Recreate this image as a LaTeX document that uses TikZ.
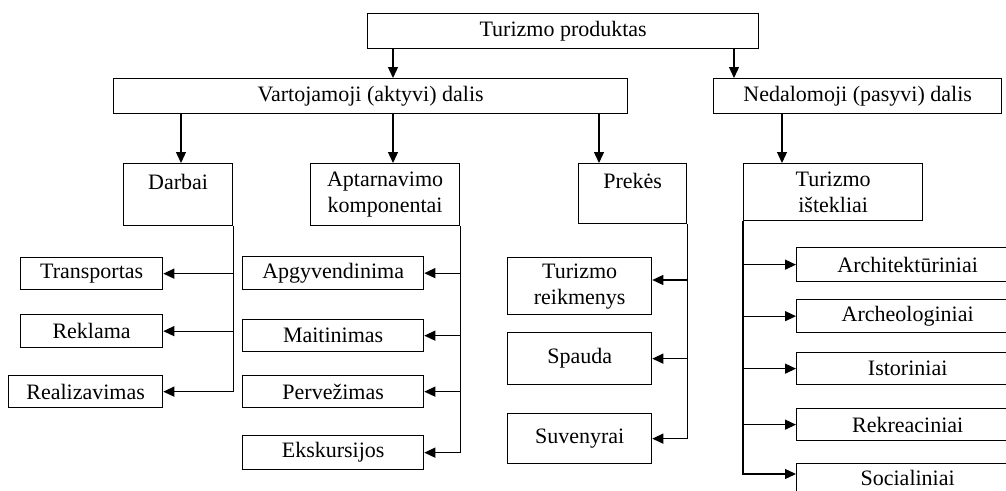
\documentclass[tikz,border=0pt]{standalone}
\usepackage{fontspec}
\setmainfont{Liberation Serif}
\usepackage{tikz}
\usetikzlibrary{arrows.meta}

\begin{document}
\begin{tikzpicture}[x=1pt,y=-1pt,>={Triangle[length=11pt,width=10pt]},
                    line width=1.3pt,font=\fontsize{22}{26}\selectfont]
  \tikzstyle{box}=[draw=black,inner sep=0pt,anchor=north west,align=center]
  \tikzstyle{link}=[->]

  \useasboundingbox (0,0) rectangle (1006,490);
  \clip (0,0) rectangle (1006,490);

  % top levels
  \node[box,minimum width=391,minimum height=35] (Produktas)   at (367,13)  {Turizmo produktas};
  \node[box,minimum width=514,minimum height=35] (Vartojamoji) at (113,78)  {Vartojamoji (aktyvi) dalis};
  \node[box,minimum width=288,minimum height=35] (Nedalomoji)  at (713,78)  {Nedalomoji (pasyvi) dalis};

  % groups
  \node[box,minimum width=109,minimum height=62] (Darbai)      at (123,163) {Darbai\\~};
  \node[box,minimum width=149,minimum height=62] (Aptarnavimo) at (310,163) {Aptarnavimo\\komponentai};
  \node[box,minimum width=108,minimum height=60] (Prekes)      at (578,163) {Prekės\\~};
  \node[box,minimum width=179,minimum height=57] (Istekliai)   at (743,163) {Turizmo\\ištekliai};

  % Darbai
  \node[box,minimum width=142,minimum height=32] (Transportas)  at (20,257) {Transportas};
  \node[box,minimum width=142,minimum height=33] (Reklama)      at (20,314) {Reklama};
  \node[box,minimum width=154,minimum height=32] (Realizavimas) at (8,375)  {Realizavimas};

  % Aptarnavimo komponentai
  \node[box,minimum width=181,minimum height=33] (Apgyvendinima) at (242,256) {Apgyvendinima};
  \node[box,minimum width=181,minimum height=32] (Maitinimas)    at (242,319) {Maitinimas};
  \node[box,minimum width=181,minimum height=32] (Pervezimas)    at (242,375) {Pervežimas};
  \node[box,minimum width=181,minimum height=34] (Ekskursijos)   at (242,435) {Ekskursijos};

  % Prekes
  \node[box,minimum width=144,minimum height=57] (Reikmenys) at (507,257) {Turizmo\\reikmenys};
  \node[box,minimum width=144,minimum height=52] (Spauda)    at (507,332) {Spauda};
  \node[box,minimum width=144,minimum height=50] (Suvenyrai) at (507,413) {Suvenyrai};

  % Turizmo istekliai
  \node[box,minimum width=222,minimum height=34] (Architekturiniai) at (796,247) {Architektūriniai};
  \node[box,minimum width=222,minimum height=33] (Archeologiniai)   at (796,299) {Archeologiniai};
  \node[box,minimum width=222,minimum height=32] (Istoriniai)       at (796,352) {Istoriniai};
  \node[box,minimum width=222,minimum height=32] (Rekreaciniai)     at (796,408) {Rekreaciniai};
  \node[box,minimum width=222,minimum height=54] (Socialiniai)      at (796,463) {Socialiniai\\~};

  \coordinate (VartIn)   at ([xshift=280pt]Vartojamoji.north west);
  \coordinate (NedIn)    at ([xshift=21pt]Nedalomoji.north west);
  \coordinate (DarbaiIn) at ([xshift=58pt]Darbai.north west);
  \coordinate (AptIn)    at ([xshift=83pt]Aptarnavimo.north west);
  \coordinate (PrekesIn) at ([xshift=21pt]Prekes.north west);
  \coordinate (IstIn)    at ([xshift=39pt]Istekliai.north west);
  \coordinate (ReikIn)   at ([yshift=-23pt]Reikmenys.north east);
  \coordinate (SocIn)    at ([yshift=-11pt]Socialiniai.north west);

  \draw[link] (Produktas.south -| VartIn)   -- (VartIn);
  \draw[link] (Produktas.south -| NedIn)    -- (NedIn);
  \draw[link] (Vartojamoji.south -| DarbaiIn) -- (DarbaiIn);
  \draw[link] (Vartojamoji.south -| AptIn)    -- (AptIn);
  \draw[link] (Vartojamoji.south -| PrekesIn) -- (PrekesIn);
  \draw[link] (Nedalomoji.south -| IstIn)     -- (IstIn);

  \draw[link] (Darbai.south east) |- (Realizavimas.east);
  \draw[link] (Transportas.east -| Darbai.east) -- (Transportas.east);
  \draw[link] (Reklama.east -| Darbai.east)     -- (Reklama.east);

  \draw[link] (Aptarnavimo.south east) |- (Ekskursijos.east);
  \draw[link] (Apgyvendinima.east -| Aptarnavimo.east) -- (Apgyvendinima.east);
  \draw[link] (Maitinimas.east -| Aptarnavimo.east)    -- (Maitinimas.east);
  \draw[link] (Pervezimas.east -| Aptarnavimo.east)    -- (Pervezimas.east);

  \draw[link] (Prekes.south east) |- (Suvenyrai.east);
  \draw[link] (ReikIn -| Prekes.east)      -- (ReikIn);
  \draw[link] (Spauda.east -| Prekes.east) -- (Spauda.east);

  \draw[link] (Istekliai.south west) |- (SocIn);
  \draw[link] (Architekturiniai.west -| Istekliai.west) -- (Architekturiniai.west);
  \draw[link] (Archeologiniai.west -| Istekliai.west)   -- (Archeologiniai.west);
  \draw[link] (Istoriniai.west -| Istekliai.west)       -- (Istoriniai.west);
  \draw[link] (Rekreaciniai.west -| Istekliai.west)     -- (Rekreaciniai.west);
\end{tikzpicture}
\end{document}
